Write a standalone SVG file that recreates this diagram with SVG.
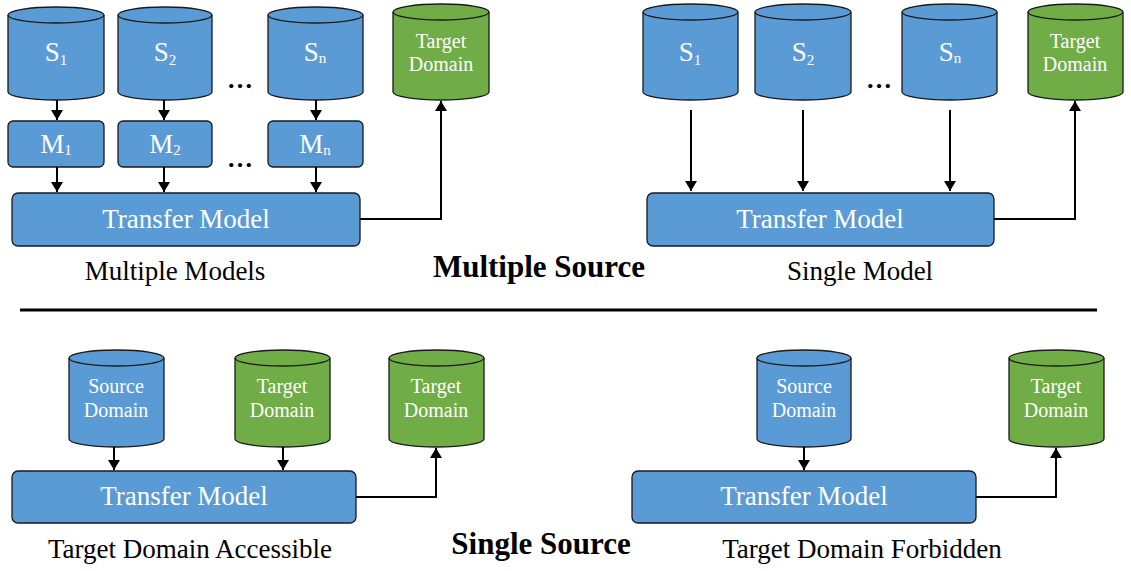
<svg xmlns="http://www.w3.org/2000/svg" width="1131" height="571" viewBox="0 0 1131 571">
<style>
.blue{fill:#5B9BD5;stroke:#1a1a1a;stroke-width:1.3}
.green{fill:#70AD47;stroke:#1a1a1a;stroke-width:1.3}
.rim{fill:none;stroke:#1a1a1a;stroke-width:1.3}
text{font-family:'Liberation Serif','Times New Roman',Tinos,'DejaVu Serif',serif}
.wt{fill:#fff;text-anchor:middle}
.big{font-size:27px}
.sm{font-size:20px}
.sub{font-size:15px}
.lbl{fill:#000;font-size:27px;text-anchor:middle}
.ttl{fill:#000;font-size:31px;font-weight:bold;text-anchor:middle}
.dots{fill:#000;font-size:26px;font-weight:bold;text-anchor:middle}
.conn{fill:none;stroke:#000;stroke-width:2}
</style>
<defs>
<marker id="ah" markerUnits="userSpaceOnUse" markerWidth="12" markerHeight="12" refX="10" refY="6" orient="auto">
<path d="M0,0 L10,6 L0,12 z" fill="#000"/>
</marker>
</defs>
<rect width="1131" height="571" fill="#fff"/>

<!-- Top-left: Multiple Models -->
<g id="tl-s1"><path class="blue" d="M8,15 A48,8 0 0 1 104,15 V92 A48,8 0 0 1 8,92 Z"/><path class="rim" d="M8,15 A48,8 0 0 0 104,15"/><text class="wt big" x="56" y="61">S<tspan class="sub" dy="4">1</tspan></text></g>
<g id="tl-s2"><path class="blue" d="M118,15 A47,8 0 0 1 212,15 V92 A47,8 0 0 1 118,92 Z"/><path class="rim" d="M118,15 A47,8 0 0 0 212,15"/><text class="wt big" x="165" y="61">S<tspan class="sub" dy="4">2</tspan></text></g>
<g id="tl-sn"><path class="blue" d="M268,15 A47.5,8 0 0 1 363,15 V92 A47.5,8 0 0 1 268,92 Z"/><path class="rim" d="M268,15 A47.5,8 0 0 0 363,15"/><text class="wt big" x="315" y="61">S<tspan class="sub" dy="2">n</tspan></text></g>
<text class="dots" x="240" y="88">…</text>
<g id="tl-m1"><rect class="blue" x="8" y="121" width="96" height="46" rx="5"/><text class="wt big" x="56" y="153">M<tspan class="sub" dy="2">1</tspan></text></g>
<g id="tl-m2"><rect class="blue" x="118" y="121" width="94" height="46" rx="5"/><text class="wt big" x="165" y="153">M<tspan class="sub" dy="2">2</tspan></text></g>
<g id="tl-mn"><rect class="blue" x="268" y="121" width="95" height="46" rx="5"/><text class="wt big" x="315" y="153">M<tspan class="sub" dy="2">n</tspan></text></g>
<text class="dots" x="240" y="167">…</text>
<g id="tl-tm"><rect class="blue" x="12" y="193" width="348" height="53" rx="6"/><text class="wt big" x="186" y="228">Transfer Model</text></g>
<g id="tl-td"><path class="green" d="M393,12 A48,8 0 0 1 489,12 V92 A48,8 0 0 1 393,92 Z"/><path class="rim" d="M393,12 A48,8 0 0 0 489,12"/><text class="wt sm" x="441" y="48">Target</text><text class="wt sm" x="441" y="71">Domain</text></g>
<text class="lbl" x="175" y="280">Multiple Models</text>

<!-- Top-right: Single Model -->
<g id="tr-s1"><path class="blue" d="M643,12 A47.5,8 0 0 1 738,12 V92 A47.5,8 0 0 1 643,92 Z"/><path class="rim" d="M643,12 A47.5,8 0 0 0 738,12"/><text class="wt big" x="690" y="61">S<tspan class="sub" dy="4">1</tspan></text></g>
<g id="tr-s2"><path class="blue" d="M755,12 A48,8 0 0 1 851,12 V92 A48,8 0 0 1 755,92 Z"/><path class="rim" d="M755,12 A48,8 0 0 0 851,12"/><text class="wt big" x="803" y="61">S<tspan class="sub" dy="4">2</tspan></text></g>
<g id="tr-sn"><path class="blue" d="M902,12 A47.5,8 0 0 1 997,12 V92 A47.5,8 0 0 1 902,92 Z"/><path class="rim" d="M902,12 A47.5,8 0 0 0 997,12"/><text class="wt big" x="950" y="61">S<tspan class="sub" dy="2">n</tspan></text></g>
<text class="dots" x="879" y="88">…</text>
<g id="tr-td"><path class="green" d="M1028,12 A47.5,8 0 0 1 1123,12 V92 A47.5,8 0 0 1 1028,92 Z"/><path class="rim" d="M1028,12 A47.5,8 0 0 0 1123,12"/><text class="wt sm" x="1075" y="48">Target</text><text class="wt sm" x="1075" y="71">Domain</text></g>
<g id="tr-tm"><rect class="blue" x="647" y="193" width="347" height="53" rx="6"/><text class="wt big" x="820" y="228">Transfer Model</text></g>
<text class="lbl" x="860" y="280">Single Model</text>

<text class="ttl" x="539" y="277">Multiple Source</text>
<line x1="20" y1="310" x2="1097" y2="310" stroke="#000" stroke-width="3"/>

<!-- Bottom-left: Target Domain Accessible -->
<g id="bl-sd"><path class="blue" d="M69,358 A47.5,8 0 0 1 164,358 V439 A47.5,8 0 0 1 69,439 Z"/><path class="rim" d="M69,358 A47.5,8 0 0 0 164,358"/><text class="wt sm" x="116" y="393">Source</text><text class="wt sm" x="116" y="417">Domain</text></g>
<g id="bl-td1"><path class="green" d="M235,358 A47.5,8 0 0 1 330,358 V439 A47.5,8 0 0 1 235,439 Z"/><path class="rim" d="M235,358 A47.5,8 0 0 0 330,358"/><text class="wt sm" x="282" y="393">Target</text><text class="wt sm" x="282" y="417">Domain</text></g>
<g id="bl-td2"><path class="green" d="M389,358 A47.5,8 0 0 1 484,358 V439 A47.5,8 0 0 1 389,439 Z"/><path class="rim" d="M389,358 A47.5,8 0 0 0 484,358"/><text class="wt sm" x="436" y="393">Target</text><text class="wt sm" x="436" y="417">Domain</text></g>
<g id="bl-tm"><rect class="blue" x="12" y="471" width="344" height="52" rx="6"/><text class="wt big" x="184" y="505">Transfer Model</text></g>
<text class="lbl" x="190" y="558">Target Domain Accessible</text>

<!-- Bottom-right: Target Domain Forbidden -->
<g id="br-sd"><path class="blue" d="M757,358 A47,8 0 0 1 851,358 V439 A47,8 0 0 1 757,439 Z"/><path class="rim" d="M757,358 A47,8 0 0 0 851,358"/><text class="wt sm" x="804" y="393">Source</text><text class="wt sm" x="804" y="417">Domain</text></g>
<g id="br-td"><path class="green" d="M1009,358 A47.5,8 0 0 1 1104,358 V439 A47.5,8 0 0 1 1009,439 Z"/><path class="rim" d="M1009,358 A47.5,8 0 0 0 1104,358"/><text class="wt sm" x="1056" y="393">Target</text><text class="wt sm" x="1056" y="417">Domain</text></g>
<g id="br-tm"><rect class="blue" x="632" y="471" width="344" height="52" rx="6"/><text class="wt big" x="804" y="505">Transfer Model</text></g>
<text class="lbl" x="862" y="558">Target Domain Forbidden</text>

<text class="ttl" x="541" y="554">Single Source</text>

<g id="connectors">
<line class="conn" x1="57" y1="100" x2="57" y2="120" marker-end="url(#ah)"/>
<line class="conn" x1="164" y1="100" x2="164" y2="120" marker-end="url(#ah)"/>
<line class="conn" x1="316" y1="100" x2="316" y2="120" marker-end="url(#ah)"/>
<line class="conn" x1="57" y1="167" x2="57" y2="192" marker-end="url(#ah)"/>
<line class="conn" x1="164" y1="167" x2="164" y2="192" marker-end="url(#ah)"/>
<line class="conn" x1="316" y1="167" x2="316" y2="192" marker-end="url(#ah)"/>
<path class="conn" d="M360,219 H441 V101" marker-end="url(#ah)"/>
<line class="conn" x1="691" y1="110" x2="691" y2="191" marker-end="url(#ah)"/>
<line class="conn" x1="803" y1="110" x2="803" y2="191" marker-end="url(#ah)"/>
<line class="conn" x1="950" y1="110" x2="950" y2="191" marker-end="url(#ah)"/>
<path class="conn" d="M994,219 H1075 V101" marker-end="url(#ah)"/>
<line class="conn" x1="114" y1="447" x2="114" y2="470" marker-end="url(#ah)"/>
<line class="conn" x1="283" y1="447" x2="283" y2="470" marker-end="url(#ah)"/>
<path class="conn" d="M356,497 H436 V448" marker-end="url(#ah)"/>
<line class="conn" x1="804" y1="447" x2="804" y2="470" marker-end="url(#ah)"/>
<path class="conn" d="M976,497 H1056 V448" marker-end="url(#ah)"/>
</g>
</svg>
